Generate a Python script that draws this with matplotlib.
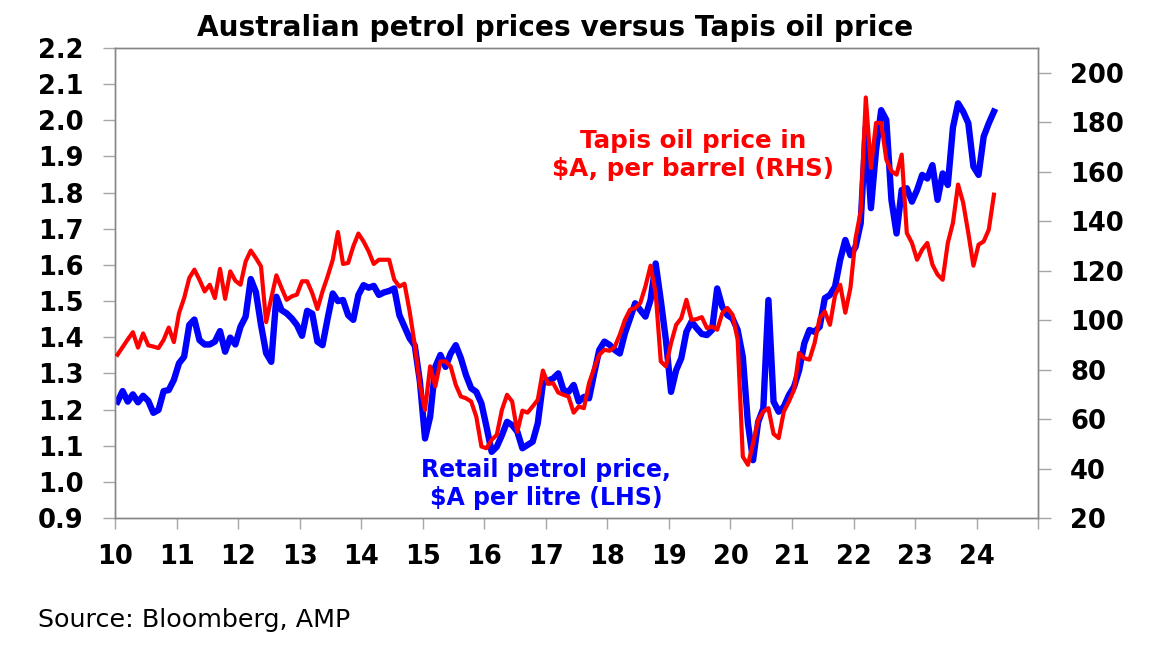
import numpy as np
import matplotlib
matplotlib.use("Agg")
import matplotlib.pyplot as plt
from matplotlib.ticker import FixedLocator, FixedFormatter

plt.rcParams['font.family'] = ['DejaVu Sans']

# Monthly data, Jan 2010 .. Apr 2024
start_year = 10
petrol = [  # $A per litre (LHS)
    1.222, 1.251, 1.222, 1.242, 1.220, 1.238, 1.224, 1.191, 1.199, 1.251, 1.254, 1.282,
    1.328, 1.346, 1.434, 1.449, 1.392, 1.380, 1.380, 1.388, 1.417, 1.360, 1.399, 1.380,
    1.429, 1.457, 1.561, 1.525, 1.434, 1.356, 1.332, 1.512, 1.475, 1.466, 1.452, 1.434,
    1.404, 1.473, 1.465, 1.388, 1.378, 1.452, 1.521, 1.500, 1.503, 1.461, 1.448, 1.517,
    1.544, 1.537, 1.542, 1.517, 1.524, 1.528, 1.535, 1.461, 1.429, 1.397, 1.377, 1.277,
    1.120, 1.180, 1.318, 1.351, 1.318, 1.355, 1.378, 1.342, 1.295, 1.259, 1.249, 1.217,
    1.152, 1.083, 1.097, 1.129, 1.166, 1.157, 1.139, 1.093, 1.102, 1.111, 1.162, 1.272,
    1.280, 1.286, 1.300, 1.254, 1.249, 1.268, 1.222, 1.235, 1.231, 1.300, 1.365, 1.388,
    1.379, 1.365, 1.355, 1.411, 1.452, 1.494, 1.475, 1.457, 1.503, 1.604, 1.502, 1.392,
    1.249, 1.309, 1.342, 1.415, 1.443, 1.425, 1.409, 1.406, 1.420, 1.535, 1.484, 1.461,
    1.452, 1.420, 1.346, 1.162, 1.060, 1.166, 1.203, 1.503, 1.222, 1.194, 1.208, 1.240,
    1.263, 1.309, 1.383, 1.420, 1.415, 1.429, 1.508, 1.517, 1.540, 1.614, 1.669, 1.627,
    1.650, 1.715, 1.982, 1.757, 1.918, 2.028, 2.001, 1.780, 1.687, 1.807, 1.812, 1.775,
    1.807, 1.849, 1.839, 1.876, 1.780, 1.853, 1.821, 1.980, 2.047, 2.024, 1.992, 1.872,
    1.849, 1.955, 1.992, 2.024,
]
tapis = [  # $A per barrel (RHS)
    86.0, 89.1, 92.2, 95.1, 88.9, 94.6, 89.8, 89.3, 88.7, 92.0, 97.0, 91.1,
    102.8, 108.9, 117.0, 120.4, 116.3, 111.6, 114.3, 108.9, 120.7, 108.6, 119.7, 115.9,
    114.3, 123.7, 128.1, 125.1, 121.7, 99.2, 108.9, 118.1, 113.0, 108.2, 109.6, 110.3,
    115.7, 115.7, 110.9, 104.5, 111.6, 117.7, 124.4, 135.6, 122.7, 123.1, 129.8, 135.0,
    131.8, 127.8, 122.7, 124.4, 124.4, 124.4, 116.3, 113.6, 114.7, 103.5, 90.0, 73.8,
    63.7, 81.3, 73.2, 83.3, 83.3, 81.3, 73.8, 69.1, 68.4, 67.1, 61.0, 48.9,
    48.2, 51.6, 53.6, 63.7, 69.8, 67.1, 54.9, 63.4, 62.6, 65.1, 67.8, 79.6,
    74.2, 74.5, 70.7, 69.8, 69.1, 62.6, 65.1, 64.4, 74.5, 80.6, 86.0, 88.0,
    87.6, 89.1, 94.1, 100.1, 104.2, 104.9, 106.9, 113.6, 122.0, 111.0, 83.3, 81.3,
    90.7, 98.1, 100.8, 108.2, 100.1, 100.4, 101.2, 96.8, 97.4, 96.1, 102.8, 104.9,
    102.2, 92.0, 44.8, 41.5, 50.2, 59.7, 63.0, 64.4, 54.0, 52.3, 63.0, 67.1,
    71.8, 86.7, 84.6, 84.0, 90.7, 100.8, 103.5, 98.1, 110.0, 114.3, 103.0, 113.0,
    133.0, 144.0, 190.0, 161.5, 179.7, 179.7, 164.9, 160.2, 158.8, 166.9, 135.2, 131.2,
    124.4, 128.5, 131.2, 122.4, 118.4, 116.3, 131.2, 139.3, 154.8, 147.4, 135.2, 122.0,
    130.5, 131.8, 136.6, 150.7,
]
x_ticks = list(range(10, 26))
x_labels = [str(v) for v in range(10, 25)] + [""]
left_ticks = [0.9, 1.0, 1.1, 1.2, 1.3, 1.4, 1.5, 1.6, 1.7, 1.8, 1.9, 2.0, 2.1, 2.2]
right_ticks = [20, 40, 60, 80, 100, 120, 140, 160, 180, 200]

title = "Australian petrol prices versus Tapis oil price"
label_oil = "Tapis oil price in\n$A, per barrel (RHS)"
label_petrol = "Retail petrol price,\n$A per litre (LHS)"
source = "Source: Bloomberg, AMP"

t = start_year + (np.arange(len(petrol)) + 0.4) / 12.0

fig = plt.figure(figsize=(11.65, 6.52), dpi=100)
ax = fig.add_axes([0.0991, 0.2055, 0.8910 - 0.0991, 0.9264 - 0.2055])
ax2 = ax.twinx()

ax.plot(t, petrol, color="#0000FF", lw=4.6, solid_joinstyle="round", zorder=2)
ax2.plot(t, tapis, color="#FF0000", lw=3.0, solid_joinstyle="round", zorder=3)

ax.set_xlim(10, 25)
ax.set_ylim(0.9, 2.2)
ax2.set_ylim(20, 210)

ax.xaxis.set_major_locator(FixedLocator(x_ticks))
ax.xaxis.set_major_formatter(FixedFormatter(x_labels))
ax.set_yticks(left_ticks)
ax.set_yticklabels([f"{v:.1f}" for v in left_ticks])
ax2.set_yticks(right_ticks)
ax2.set_yticklabels([str(v) for v in right_ticks])

spine_c = "#868686"
tick_c = "#A6A6A6"
for a in (ax, ax2):
    for s in a.spines.values():
        s.set_color(spine_c)
        s.set_linewidth(1.0)
ax.tick_params(axis="y", direction="out", length=9, width=1, color=tick_c,
               labelsize=18.5, pad=14, labelcolor="black")
ax.tick_params(axis="x", direction="out", length=8, width=1, color=tick_c,
               labelsize=18.5, pad=11, labelcolor="black")
ax2.tick_params(axis="y", direction="out", length=9, width=1, color=tick_c,
                labelsize=18.5, pad=14, labelcolor="black")
for lab in ax.get_xticklabels() + ax.get_yticklabels() + ax2.get_yticklabels():
    lab.set_fontweight("bold")

fig.text(555 / 1165, 1 - 28 / 652, title, ha="center", va="center",
         fontsize=20.2, fontweight="bold")
fig.text(693 / 1165, 1 - 155 / 652, label_oil, ha="center", va="center",
         fontsize=17.7, fontweight="bold", color="#FF0000", linespacing=1.2)
fig.text(546 / 1165, 1 - 484 / 652, label_petrol, ha="center", va="center",
         fontsize=17.0, fontweight="bold", color="#0000FF", linespacing=1.25)
fig.text(38 / 1165, 1 - 620 / 652, source, ha="left", va="center",
         fontsize=18.3, color="black")

fig.savefig("out.png", dpi=100, facecolor="white")
